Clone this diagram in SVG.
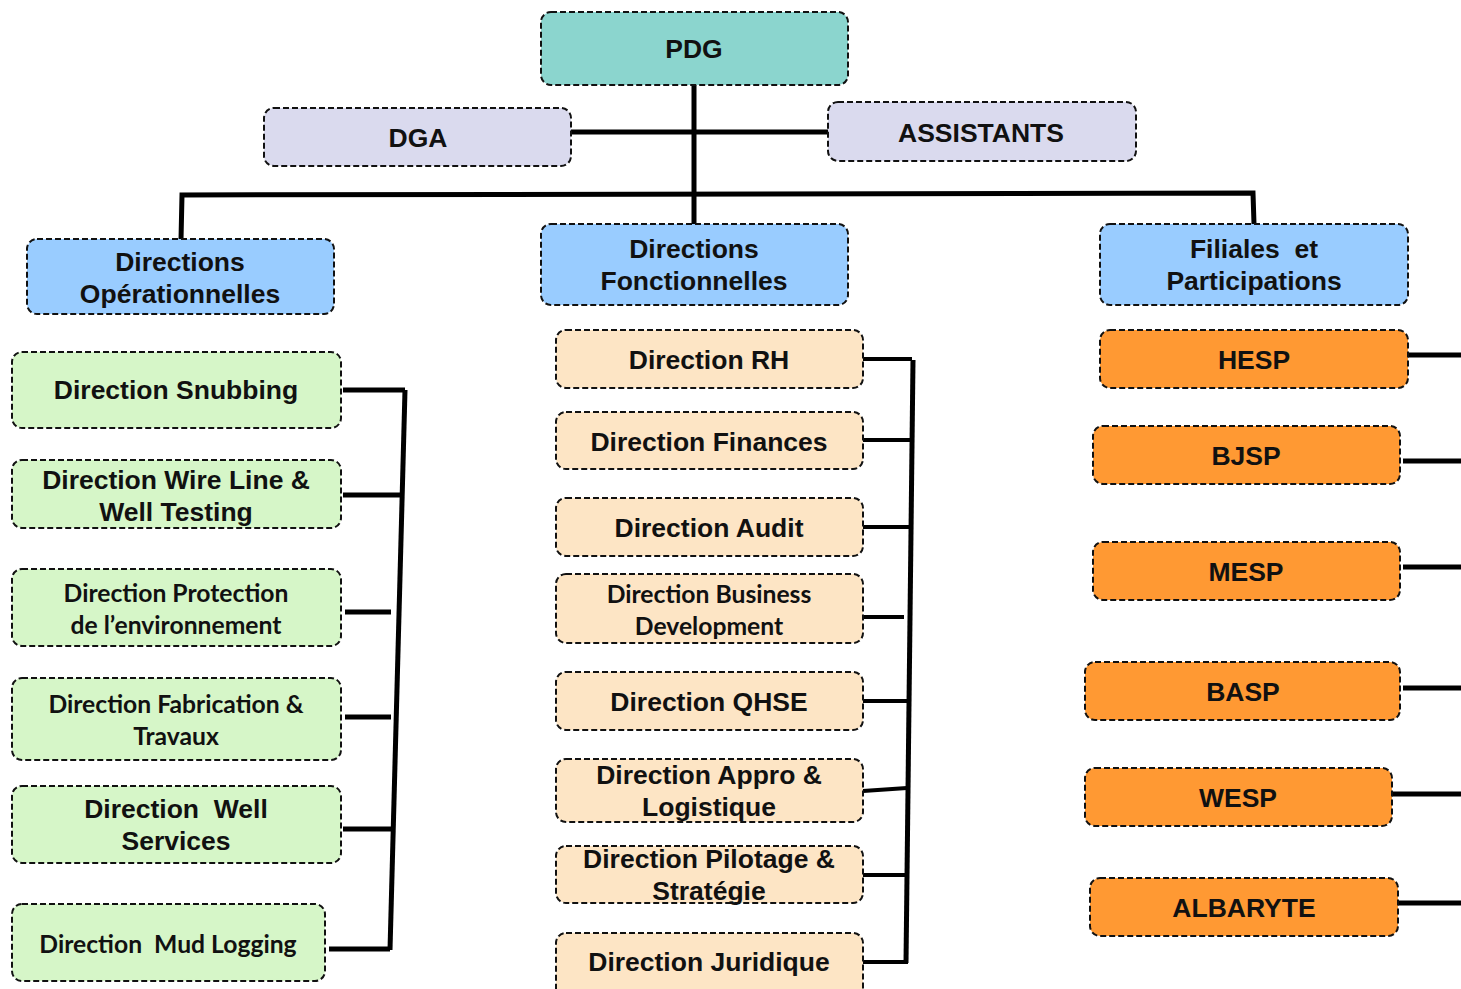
<svg xmlns="http://www.w3.org/2000/svg" width="1461" height="989" viewBox="0 0 1461 989">
<style>
.box{stroke:#111;stroke-width:2;stroke-dasharray:6 3;}
.pdg{fill:#8BD5CE}
.lav{fill:#DADAEE}
.blue{fill:#99CCFF}
.green{fill:#D6F6C8}
.peach{fill:#FDE5C5}
.orange{fill:#FF9933}
.t{font-family:"Liberation Sans",Arial,sans-serif;font-weight:bold;font-size:26.5px;fill:#111;text-anchor:middle;dominant-baseline:central}
.c{font-family:Lato,"Liberation Sans",sans-serif;font-weight:bold;font-size:24.7px;fill:#111;text-anchor:middle;dominant-baseline:central}
.ln{stroke:#000;stroke-width:5;fill:none}
.ln4{stroke:#000;stroke-width:4;fill:none}
</style>
<rect width="1461" height="989" fill="#fff"/>
<g id="connectors">
<path class="ln" d="M694 85 V230"/>
<path class="ln" d="M571 132 H828"/>
<path class="ln" d="M181 240 L182 195 L1253 193 L1254 224"/>
<path class="ln" d="M405 390 L390 950"/>
<path class="ln" d="M343 390 H405"/>
<path class="ln" d="M343 495 H403"/>
<path class="ln" d="M345 612 H391"/>
<path class="ln" d="M345 717 H391"/>
<path class="ln" d="M343 829 H392"/>
<path class="ln" d="M329 949 H390"/>
<path class="ln" d="M913 360 L906 963"/>
<path class="ln4" d="M863 359 H912"/>
<path class="ln4" d="M863 440 H910"/>
<path class="ln4" d="M863 527 H909"/>
<path class="ln4" d="M860 617 H904"/>
<path class="ln4" d="M863 701 H908"/>
<path class="ln4" d="M863 791 L907 788"/>
<path class="ln4" d="M863 875 H906"/>
<path class="ln4" d="M863 962 H908"/>
<path class="ln" d="M1404 355 H1461"/>
<path class="ln" d="M1403 461 H1461"/>
<path class="ln" d="M1403 567 H1461"/>
<path class="ln" d="M1403 688 H1461"/>
<path class="ln" d="M1388 794 H1461"/>
<path class="ln" d="M1392 903 H1461"/>
</g>
<g id="pdg"><rect class="box pdg" x="541" y="12" width="307" height="73" rx="10"/><text class="t" x="694" y="49">PDG</text></g>
<g id="dga"><rect class="box lav" x="264" y="108" width="307" height="58" rx="10"/><text class="t" x="418" y="138">DGA</text></g>
<g id="assistants"><rect class="box lav" x="828" y="102" width="308" height="59" rx="10"/><text class="t" x="981" y="133">ASSISTANTS</text></g>
<g id="dir-op"><rect class="box blue" x="27" y="239" width="307" height="75" rx="10"/><text class="t" x="180" y="262">Directions</text><text class="t" x="180" y="294">Opérationnelles</text></g>
<g id="dir-fonc"><rect class="box blue" x="541" y="224" width="307" height="81" rx="10"/><text class="t" x="694" y="249">Directions</text><text class="t" x="694" y="281">Fonctionnelles</text></g>
<g id="filiales"><rect class="box blue" x="1100" y="224" width="308" height="81" rx="10"/><text class="t" x="1254" y="249" xml:space="preserve">Filiales  et</text><text class="t" x="1254" y="281">Participations</text></g>
<g id="snubbing"><rect class="box green" x="12" y="352" width="329" height="76" rx="10"/><text class="t" x="176" y="390">Direction Snubbing</text></g>
<g id="wireline"><rect class="box green" x="12" y="460" width="329" height="68" rx="10"/><text class="t" x="176" y="480">Direction Wire Line &amp;</text><text class="t" x="176" y="512">Well Testing</text></g>
<g id="protection"><rect class="box green" x="12" y="569" width="329" height="77" rx="10"/><text class="c" x="176" y="592">Direction Protection</text><text class="c" x="176" y="624">de l’environnement</text></g>
<g id="fabrication"><rect class="box green" x="12" y="678" width="329" height="82" rx="10"/><text class="c" x="176" y="703">Direction Fabrication &amp;</text><text class="c" x="176" y="735">Travaux</text></g>
<g id="wellservices"><rect class="box green" x="12" y="786" width="329" height="77" rx="10"/><text class="t" x="176" y="809" xml:space="preserve">Direction  Well</text><text class="t" x="176" y="841">Services</text></g>
<g id="mudlogging"><rect class="box green" x="12" y="904" width="313" height="77" rx="10"/><text class="c" x="168" y="943" xml:space="preserve">Direction  Mud Logging</text></g>
<g id="rh"><rect class="box peach" x="556" y="330" width="307" height="58" rx="10"/><text class="t" x="709" y="360">Direction RH</text></g>
<g id="finances"><rect class="box peach" x="556" y="412" width="307" height="57" rx="10"/><text class="t" x="709" y="442">Direction Finances</text></g>
<g id="audit"><rect class="box peach" x="556" y="498" width="307" height="58" rx="10"/><text class="t" x="709" y="528">Direction Audit</text></g>
<g id="business"><rect class="box peach" x="556" y="574" width="307" height="69" rx="10"/><text class="c" x="709" y="593">Direction Business</text><text class="c" x="709" y="625">Development</text></g>
<g id="qhse"><rect class="box peach" x="556" y="672" width="307" height="58" rx="10"/><text class="t" x="709" y="702">Direction QHSE</text></g>
<g id="appro"><rect class="box peach" x="556" y="759" width="307" height="63" rx="10"/><text class="t" x="709" y="775">Direction Appro &amp;</text><text class="t" x="709" y="807">Logistique</text></g>
<g id="pilotage"><rect class="box peach" x="556" y="846" width="307" height="57" rx="10"/><text class="t" x="709" y="859">Direction Pilotage &amp;</text><text class="t" x="709" y="891">Stratégie</text></g>
<g id="juridique"><rect class="box peach" x="556" y="933" width="307" height="66" rx="10"/><text class="t" x="709" y="962">Direction Juridique</text></g>
<g id="hesp"><rect class="box orange" x="1100" y="330" width="308" height="58" rx="10"/><text class="t" x="1254" y="360">HESP</text></g>
<g id="bjsp"><rect class="box orange" x="1093" y="426" width="307" height="58" rx="10"/><text class="t" x="1246" y="456">BJSP</text></g>
<g id="mesp"><rect class="box orange" x="1093" y="542" width="307" height="58" rx="10"/><text class="t" x="1246" y="572">MESP</text></g>
<g id="basp"><rect class="box orange" x="1085" y="662" width="315" height="58" rx="10"/><text class="t" x="1243" y="692">BASP</text></g>
<g id="wesp"><rect class="box orange" x="1085" y="768" width="307" height="58" rx="10"/><text class="t" x="1238" y="798">WESP</text></g>
<g id="albaryte"><rect class="box orange" x="1090" y="878" width="308" height="58" rx="10"/><text class="t" x="1244" y="908">ALBARYTE</text></g>
</svg>
